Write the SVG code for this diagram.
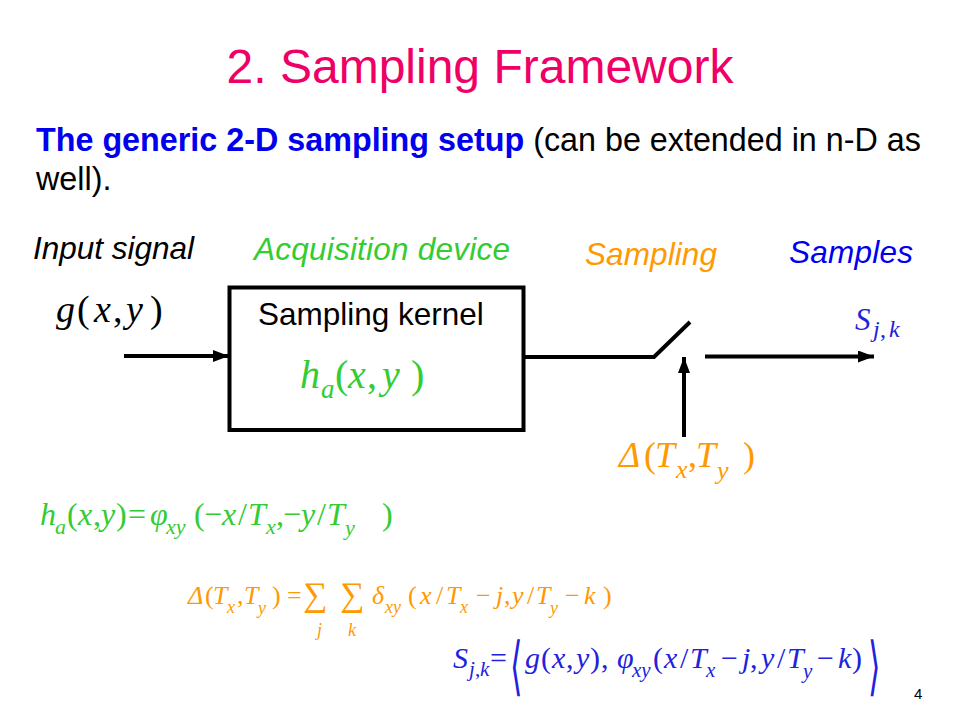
<svg xmlns="http://www.w3.org/2000/svg" width="960" height="720" viewBox="0 0 960 720">
<defs>
<style>
.sans{font-family:"Liberation Sans",Arial,sans-serif}
.m{font-family:"Liberation Serif","DejaVu Serif",serif}
.i{font-style:italic}
.g{fill:#33CC33}
.o{fill:#FF9900}
.b{fill:#2222DD}
.k{fill:#000}
.ln{stroke:#000;stroke-width:4;fill:none}
.br{font-family:"DejaVu Sans","Liberation Serif",serif}
</style>
<marker id="ah" markerUnits="userSpaceOnUse" markerWidth="16" markerHeight="12" refX="16" refY="6" orient="auto">
<path d="M0,0 L16,6 L0,12 z" fill="#000"/>
</marker>
</defs>
<rect width="960" height="720" fill="#fff"/>

<g id="title">
<text class="sans" x="480" y="83" font-size="48" text-anchor="middle" fill="#EE0066">2. Sampling Framework</text>
</g>

<g id="intro">
<text class="sans" x="36" y="151" font-size="32.3"><tspan font-weight="bold" fill="#0000EE">The generic 2-D sampling setup</tspan><tspan fill="#000"> (can be extended in n-D as</tspan></text>
<text class="sans" x="36" y="189.5" font-size="32.3" fill="#000">well).</text>
</g>

<g id="labels" class="sans i" font-size="31.5">
<text x="33" y="259" fill="#000" textLength="161">Input signal</text>
<text x="254" y="260" fill="#33CC33" textLength="256">Acquisition device</text>
<text x="585" y="265" fill="#FF9900" textLength="132">Sampling</text>
<text x="789" y="263" fill="#0000EE" textLength="124">Samples</text>
</g>

<g id="node-input">
<text class="m k" font-size="38">
<tspan x="56" y="322" class="i">g</tspan><tspan x="77" y="322">(</tspan><tspan x="94" y="322" class="i">x</tspan><tspan x="113" y="322">,</tspan><tspan x="126" y="322" class="i">y</tspan><tspan x="150" y="322">)</tspan>
</text>
</g>

<g id="node-acquisition">
<rect x="229.5" y="287.5" width="294" height="142.5" class="ln"/>
<text class="sans" x="258" y="325" font-size="31.5" fill="#000">Sampling kernel</text>
<text class="m g" font-size="40">
<tspan x="300" y="388" class="i">h</tspan><tspan x="321" y="398" class="i" font-size="27">a</tspan><tspan x="335" y="388">(</tspan><tspan x="348" y="388" class="i">x</tspan><tspan x="367" y="388">,</tspan><tspan x="382" y="388" class="i">y</tspan><tspan x="411" y="388">)</tspan>
</text>
</g>

<g id="node-switch">
<text class="m o" font-size="36">
<tspan x="619" y="467" class="i">Δ</tspan><tspan x="644" y="467">(</tspan><tspan x="655" y="467" class="i">T</tspan><tspan x="676" y="478" class="i" font-size="26">x</tspan><tspan x="688" y="467">,</tspan><tspan x="696" y="467" class="i">T</tspan><tspan x="717" y="479" class="i" font-size="26">y</tspan><tspan x="743" y="467">)</tspan>
</text>
</g>

<g id="node-output">
<text class="m b" font-size="31">
<tspan x="855" y="330" class="i">S</tspan><tspan x="873" y="337" class="i" font-size="24">j</tspan><tspan x="880" y="337" font-size="24">,</tspan><tspan x="889" y="337" class="i" font-size="24">k</tspan>
</text>
</g>

<g id="connectors">
<line x1="124" y1="356" x2="229" y2="356" class="ln" marker-end="url(#ah)"/>
<polyline points="523.5,357 654,357 690,322" class="ln"/>
<line x1="684" y1="437" x2="684" y2="357" class="ln" marker-end="url(#ah)"/>
<line x1="705" y1="356.5" x2="874" y2="356.5" class="ln" marker-end="url(#ah)"/>
</g>

<g id="formula-kernel">
<text class="m g" font-size="32">
<tspan x="40" y="525" class="i">h</tspan><tspan x="55" y="534" class="i" font-size="22">a</tspan><tspan x="67" y="525">(</tspan><tspan x="78" y="525" class="i">x</tspan><tspan x="93" y="525">,</tspan><tspan x="101" y="525" class="i">y</tspan><tspan x="116" y="525">)</tspan><tspan x="128" y="525">=</tspan><tspan x="150" y="525" class="i">φ</tspan><tspan x="166" y="534" class="i" font-size="22">xy</tspan><tspan x="194" y="525">(</tspan><tspan x="204" y="525">−</tspan><tspan x="222" y="525" class="i">x</tspan><tspan x="238" y="525">/</tspan><tspan x="248" y="525" class="i">T</tspan><tspan x="266" y="534" class="i" font-size="22">x</tspan><tspan x="276" y="525">,</tspan><tspan x="283" y="525">−</tspan><tspan x="301" y="525" class="i">y</tspan><tspan x="317" y="525">/</tspan><tspan x="327" y="525" class="i">T</tspan><tspan x="345" y="535" class="i" font-size="22">y</tspan><tspan x="382" y="525">)</tspan>
</text>
</g>

<g id="formula-delta">
<text class="m o" font-size="26">
<tspan x="188" y="604" class="i">Δ</tspan><tspan x="205" y="604">(</tspan><tspan x="213" y="604" class="i">T</tspan><tspan x="227" y="613" class="i" font-size="18">x</tspan><tspan x="237" y="604">,</tspan><tspan x="244" y="604" class="i">T</tspan><tspan x="258" y="614" class="i" font-size="18">y</tspan><tspan x="272" y="604">)</tspan><tspan x="287" y="604">=</tspan><tspan x="372" y="604" class="i">δ</tspan><tspan x="385" y="613" class="i" font-size="18">xy</tspan><tspan x="408" y="604">(</tspan><tspan x="420" y="604" class="i">x</tspan><tspan x="436" y="604">/</tspan><tspan x="446" y="604" class="i">T</tspan><tspan x="460" y="613" class="i" font-size="18">x</tspan><tspan x="476" y="604">−</tspan><tspan x="496" y="604" class="i">j</tspan><tspan x="504" y="604">,</tspan><tspan x="512" y="604" class="i">y</tspan><tspan x="527" y="604">/</tspan><tspan x="536" y="604" class="i">T</tspan><tspan x="550" y="614" class="i" font-size="18">y</tspan><tspan x="565" y="604">−</tspan><tspan x="584" y="604" class="i">k</tspan><tspan x="603" y="604">)</tspan>
</text>
<text class="m o" font-size="34"><tspan x="303" y="606">∑</tspan><tspan x="340" y="606">∑</tspan></text>
<text class="m o i" font-size="18"><tspan x="317" y="636">j</tspan><tspan x="348" y="636">k</tspan></text>
</g>

<g id="formula-samples">
<text class="m b" font-size="30">
<tspan x="453" y="668" class="i">S</tspan><tspan x="469" y="676" class="i" font-size="21">j</tspan><tspan x="475" y="676" font-size="21">,</tspan><tspan x="480" y="676" class="i" font-size="21">k</tspan><tspan x="490" y="668">=</tspan><tspan x="525" y="668" class="i">g</tspan><tspan x="541" y="668">(</tspan><tspan x="552" y="668" class="i">x</tspan><tspan x="566" y="668">,</tspan><tspan x="576" y="668" class="i">y</tspan><tspan x="590" y="668">)</tspan><tspan x="601" y="668">,</tspan><tspan x="617" y="668" class="i">φ</tspan><tspan x="632" y="677" class="i" font-size="21">xy</tspan><tspan x="653" y="668">(</tspan><tspan x="664" y="668" class="i">x</tspan><tspan x="680" y="668">/</tspan><tspan x="690" y="668" class="i">T</tspan><tspan x="706" y="677" class="i" font-size="21">x</tspan><tspan x="721" y="668">−</tspan><tspan x="742" y="668" class="i">j</tspan><tspan x="750" y="668">,</tspan><tspan x="761" y="668" class="i">y</tspan><tspan x="777" y="668">/</tspan><tspan x="787" y="668" class="i">T</tspan><tspan x="803" y="678" class="i" font-size="21">y</tspan><tspan x="817" y="668">−</tspan><tspan x="838" y="668" class="i">k</tspan><tspan x="852" y="668">)</tspan>
</text>
<text class="br b" font-size="64" transform="translate(510,688) scale(0.5,1)">⟨</text>
<text class="br b" font-size="64" transform="translate(868,688) scale(0.5,1)">⟩</text>
</g>

<g id="page-number">
<text class="sans" x="914" y="699" font-size="15" fill="#000">4</text>
</g>
</svg>
